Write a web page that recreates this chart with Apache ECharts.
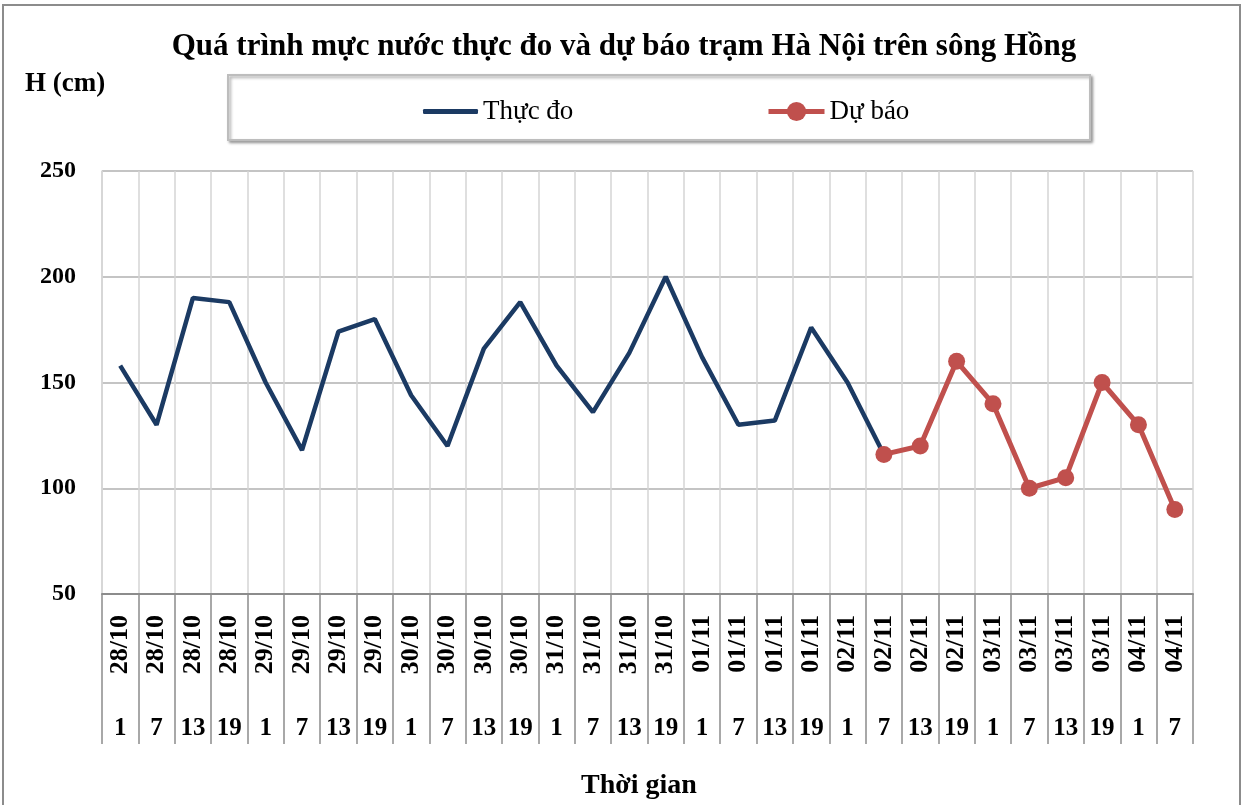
<!DOCTYPE html>
<html><head><meta charset="utf-8">
<script src="https://cdn.jsdelivr.net/npm/echarts@6/dist/echarts.min.js"></script>
<style>html,body{margin:0;padding:0;background:#fff}#c{width:1248px;height:805px}</style>
</head><body><div id="c"></div>
<script>
const dates = ['28/10','28/10','28/10','28/10','29/10','29/10','29/10','29/10','30/10','30/10','30/10','30/10','31/10','31/10','31/10','31/10','01/11','01/11','01/11','01/11','02/11','02/11','02/11','02/11','03/11','03/11','03/11','03/11','04/11','04/11'];
const hours = ['1','7','13','19','1','7','13','19','1','7','13','19','1','7','13','19','1','7','13','19','1','7','13','19','1','7','13','19','1','7'];
const measured = [158,130,190,188,150,118,174,180,144,120,166,188,158,136,164,200,162,130,132,176,150,116,null,null,null,null,null,null,null,null];
const forecast = [null,null,null,null,null,null,null,null,null,null,null,null,null,null,null,null,null,null,null,null,null,116,120,160,140,100,105,150,130,90];
const yTicks = {min:50, max:250, interval:50};

const serif = '"Liberation Serif","DejaVu Serif",serif';
const chart = echarts.init(document.getElementById('c'), null, {renderer:'canvas'});
chart.setOption({
  animation:false,
  backgroundColor:'#fff',
  title:{text:'Quá trình mực nước thực đo và dự báo trạm Hà Nội trên sông Hồng',left:'center',top:26,
    textStyle:{fontFamily:serif,fontWeight:'bold',fontSize:31,color:'#000'}},
  graphic:[
    {type:'rect',shape:{x:3,y:5,width:1237,height:810},style:{fill:'none',stroke:'#8c8c8c',lineWidth:2},z:-10},
    {type:'rect',shape:{x:228,y:75,width:862,height:65},style:{fill:'#fff',stroke:'#bdbdbd',lineWidth:2,shadowColor:'rgba(0,0,0,0.35)',shadowBlur:3,shadowOffsetX:2,shadowOffsetY:2},z:-5},
    {type:'text',left:25,top:71,style:{text:'H (cm)',font:'bold 27px '+serif,fill:'#000'}},
    {type:'text',x:639,y:786,style:{text:'Thời gian',font:'bold 28px '+serif,fill:'#000',textAlign:'center',textVerticalAlign:'middle'}}
  ],
  legend:[
    {data:[{name:'Thực đo',icon:'roundRect'}],left:418,top:93,itemWidth:55,itemHeight:5,itemGap:4,
      textStyle:{fontFamily:serif,fontSize:27,color:'#000',padding:[0,0,0,0]}},
    {data:['Dự báo'],left:761,top:93,itemWidth:56,itemHeight:24,itemGap:4,
      lineStyle:{width:5},
      textStyle:{fontFamily:serif,fontSize:27,color:'#000',padding:[0,0,0,0]}}
  ],
  grid:{left:102,right:55,top:171,bottom:211,containLabel:false},
  xAxis:[
    {type:'category',data:dates,boundaryGap:true,
      axisLine:{show:true,lineStyle:{color:'#8c8c8c',width:2}},
      axisTick:{show:true,interval:0,length:150,lineStyle:{color:'#8c8c8c',width:1.5}},
      axisLabel:{interval:0,rotate:90,margin:21,fontFamily:serif,fontWeight:'bold',fontSize:26,color:'#000'},
      splitLine:{show:true,interval:0,lineStyle:{color:'#d4d4d4',width:1.5}}},
    {type:'category',data:hours,boundaryGap:true,position:'bottom',offset:116,
      axisLine:{show:false},axisTick:{show:false},splitLine:{show:false},
      axisLabel:{interval:0,margin:6,fontFamily:serif,fontWeight:'bold',fontSize:25,color:'#000'}}
  ],
  yAxis:{type:'value',min:yTicks.min,max:yTicks.max,interval:yTicks.interval,
    axisLine:{show:true,lineStyle:{color:'#d4d4d4',width:1.5}},axisTick:{show:false},
    axisLabel:{margin:26,fontFamily:serif,fontWeight:'bold',fontSize:24,color:'#000'},
    splitLine:{show:true,lineStyle:{color:'#c4c4c4',width:2}}},
  series:[
    {name:'Thực đo',type:'line',data:measured,showSymbol:false,symbol:'none',
      lineStyle:{color:'#1b3a63',width:4.5},itemStyle:{color:'#1b3a63'},connectNulls:false,z:2},
    {name:'Dự báo',type:'line',data:forecast,symbol:'circle',symbolSize:17,
      lineStyle:{color:'#c0504d',width:5},itemStyle:{color:'#c0504d'},z:3}
  ]
});
</script></body></html>
